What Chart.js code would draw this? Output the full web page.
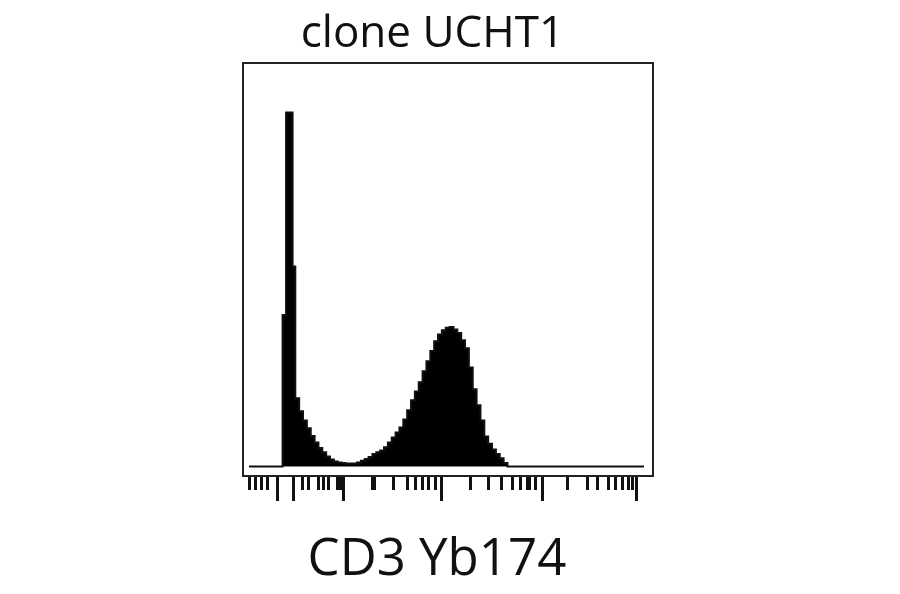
<!DOCTYPE html>
<html>
<head>
<meta charset="utf-8">
<script src="https://cdn.jsdelivr.net/npm/chart.js@4/dist/chart.umd.min.js"></script>
<style>
  html, body { margin: 0; padding: 0; background: #fff; }
  canvas { display: block; }
</style>
</head>
<body>
<canvas id="histo" width="900" height="594"></canvas>
<script>
// histogram bins (channel where each bin starts) and event counts
const binStart = [0, 87, 96, 113,
  120, 130, 140, 150, 160, 170, 180, 190, 200, 210,
  220, 230, 240, 250, 260, 270, 280, 290, 300, 310,
  320, 330, 340, 350, 360, 370, 380, 390, 400, 410,
  420, 430, 440, 450, 460, 470, 480, 490, 500, 510,
  520, 530, 540, 550, 560, 570, 580, 590, 600, 610,
  620, 630, 640, 650, 660, 670, 1024];
const counts = [0, 42.8, 100, 56.5,
  19.3, 15.6, 13.0, 10.8, 8.6, 6.8, 5.2, 4.0, 2.8, 2.0,
  1.4, 1.1, 1.0, 0.85, 0.85, 0.85, 1.1, 1.6, 2.1, 2.7,
  3.5, 4.0, 4.5, 5.4, 6.8, 8.2, 9.6, 11.0, 13.3, 15.9,
  18.7, 21.2, 23.8, 26.9, 29.7, 32.6, 35.4, 37.3, 38.5, 39.2,
  39.4, 38.7, 37.7, 35.7, 33.4, 28.0, 21.8, 17.3, 13.0, 8.5,
  6.4, 4.8, 3.5, 2.3, 1.0, 0, 0];

// tick marks under the plot (channel values)
const majorTicks = [73, 113, 244, 497, 759, 1003];
const minorTicks = [0, 16, 30, 46, 137, 153, 179, 193, 205, 228, 235, 241,
  319, 325, 374, 409, 430, 448, 465, 482,
  573, 620, 653, 682, 702, 720, 726, 741,
  824, 875, 901, 931, 949, 966, 983, 993];

const titleText = 'clone UCHT1';
const axisText = 'CD3 Yb174';

// frame + tick marks + texts
const framePlugin = {
  id: 'frame',
  afterDraw(chart) {
    const c = chart.ctx;
    const a = chart.chartArea;
    const sx = chart.scales.x;
    c.save();
    c.strokeStyle = '#222';
    c.lineWidth = 2;
    c.strokeRect(a.left, a.top, a.right - a.left, a.bottom - a.top);

    c.strokeStyle = '#111';
    c.lineWidth = 3;
    c.beginPath();
    minorTicks.forEach(v => {
      const px = Math.round(sx.getPixelForValue(v)) + 0.5;
      c.moveTo(px, a.bottom + 1);
      c.lineTo(px, a.bottom + 14);
    });
    majorTicks.forEach(v => {
      const px = Math.round(sx.getPixelForValue(v)) + 0.5;
      c.moveTo(px, a.bottom + 1);
      c.lineTo(px, a.bottom + 25);
    });
    c.stroke();

    const w = a.right - a.left;
    c.fillStyle = '#111';
    c.textAlign = 'center';
    c.textBaseline = 'alphabetic';
    c.font = '44px "Open Sans"';
    c.fillText(titleText, a.left + 0.462 * w, a.top - 16);
    c.font = '51px "Open Sans"';
    c.fillText(axisText, a.left + 0.473 * w, a.bottom + 99);
    c.restore();
  }
};

const ctx = document.getElementById('histo').getContext('2d');

const myChart = new Chart(ctx, {
  type: 'line',
  data: {
    datasets: [{
      data: binStart.map((x, i) => ({ x: x, y: counts[i] })),
      stepped: true,
      fill: 'origin',
      backgroundColor: '#000',
      borderColor: '#111',
      borderWidth: 2,
      pointRadius: 0
    }]
  },
  options: {
    responsive: false,
    animation: false,
    layout: { padding: { left: 243, right: 247, top: 63, bottom: 118 } },
    plugins: {
      legend: { display: false },
      tooltip: { enabled: false },
      title: { display: false }
    },
    scales: {
      x: { type: 'linear', min: -15.6, max: 1047.3, display: false },
      y: { min: -2.69, max: 114, display: false }
    }
  },
  plugins: [framePlugin]
});
</script>
</body>
</html>
